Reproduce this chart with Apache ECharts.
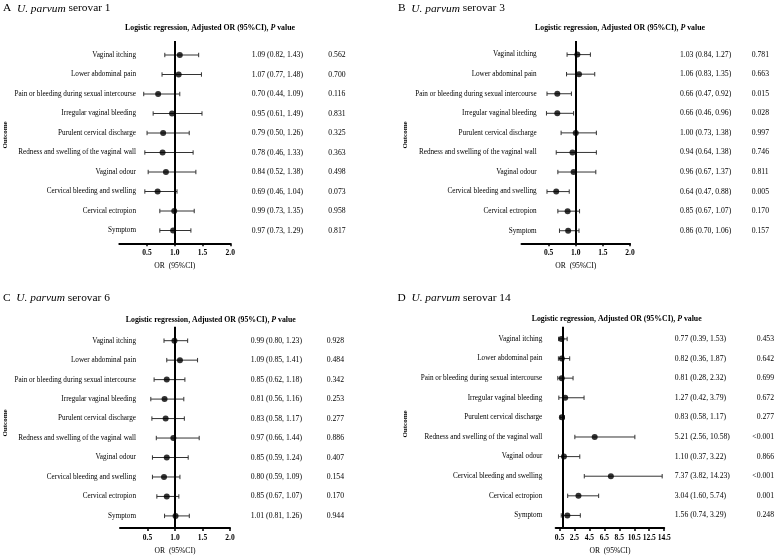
<!DOCTYPE html>
<html>
<head>
<meta charset="utf-8">
<script src="https://cdn.jsdelivr.net/npm/echarts@6/dist/echarts.min.js"></script>
<style>html,body{margin:0;padding:0;background:#fff}#c{width:777px;height:556px}</style>
</head>
<body>
<div id="c"></div>
<script>
// ---------------- data ----------------
const categories = ["Vaginal itching","Lower abdominal pain","Pain or bleeding during sexual intercourse","Irregular vaginal bleeding","Purulent cervical discharge","Redness and swelling of the vaginal wall","Vaginal odour","Cervical bleeding and swelling","Cervical ectropion","Symptom"];

const panelLetters = ["A","B","C","D"];
const serovars = ["1","3","6","14"];

const orA = [1.09,1.07,0.70,0.95,0.79,0.78,0.84,0.69,0.99,0.97];
const loA = [0.82,0.77,0.44,0.61,0.50,0.46,0.52,0.46,0.73,0.73];
const hiA = [1.43,1.48,1.09,1.49,1.26,1.33,1.38,1.04,1.35,1.29];
const pA  = ["0.562","0.700","0.116","0.831","0.325","0.363","0.498","0.073","0.958","0.817"];

const orB = [1.03,1.06,0.66,0.66,1.00,0.94,0.96,0.64,0.85,0.86];
const loB = [0.84,0.83,0.47,0.46,0.73,0.64,0.67,0.47,0.67,0.70];
const hiB = [1.27,1.35,0.92,0.96,1.38,1.38,1.37,0.88,1.07,1.06];
const pB  = ["0.781","0.663","0.015","0.028","0.997","0.746","0.811","0.005","0.170","0.157"];

const orC = [0.99,1.09,0.85,0.81,0.83,0.97,0.85,0.80,0.85,1.01];
const loC = [0.80,0.85,0.62,0.56,0.58,0.66,0.59,0.59,0.67,0.81];
const hiC = [1.23,1.41,1.18,1.16,1.17,1.44,1.24,1.09,1.07,1.26];
const pC  = ["0.928","0.484","0.342","0.253","0.277","0.886","0.407","0.154","0.170","0.944"];

const orD = [0.77,0.82,0.81,1.27,0.83,5.21,1.10,7.37,3.04,1.56];
const loD = [0.39,0.36,0.28,0.42,0.58,2.56,0.37,3.82,1.60,0.74];
const hiD = [1.53,1.87,2.32,3.79,1.17,10.58,3.22,14.23,5.74,3.29];
const pD  = ["0.453","0.642","0.699","0.672","0.277","<0.001","0.866","<0.001","0.001","0.248"];

const ticksSmall = [0.5,1.0,1.5,2.0];
const ticksWide  = [0.5,2.5,4.5,6.5,8.5,10.5,12.5,14.5];
const refValue = 1.0;

const headerText = "Logistic regression, Adjusted OR (95%CI), ";
const xAxisTitle = "OR  (95%CI)";
const yAxisTitle = "Outcome";

// ---------------- layout ----------------
const panels = [
  {or:orA, lo:loA, hi:hiA, p:pA, ticks:ticksSmall, xMax:2.0,
   g:{left:119.3, top:41, width:111, height:202.3}, row0:55, step:19.5,
   labelRight:136, orLeft:251.7, pX:328.3, pAlign:'left',
   title:[3,8], header:[210,29.3], outcome:[5,135]},
  {or:orB, lo:loB, hi:hiB, p:pB, ticks:ticksSmall, xMax:2.0,
   g:{left:521.5, top:41, width:108.5, height:202.3}, row0:54.6, step:19.57,
   labelRight:536.7, orLeft:680, pX:751.7, pAlign:'left',
   title:[398,8], header:[620,29.3], outcome:[405,135]},
  {or:orC, lo:loC, hi:hiC, p:pC, ticks:ticksSmall, xMax:2.0,
   g:{left:120, top:326.7, width:110, height:201.6}, row0:340.7, step:19.5,
   labelRight:136, orLeft:250.7, pX:326.7, pAlign:'left',
   title:[3,297.3], header:[210.8,320.7], outcome:[5,423]},
  {or:orD, lo:loD, hi:hiD, p:pD, ticks:ticksWide, xMax:14.5,
   g:{left:555.7, top:326.7, width:111, height:202.6}, row0:339, step:19.74,
   labelRight:542.3, orLeft:677.3, pX:776.5, pAlign:'right',
   title:[397.5,297.3], header:[616.7,320], outcome:[405,424]}
];

const SERIF = "Liberation Serif";
const idx = categories.map((_, i) => i);

const option = {
  animation:false,
  backgroundColor:'#fff',
  title:[], grid:[], xAxis:[], yAxis:[], series:[], graphic:[]
};

panels.forEach((P, k) => {
  const yMin = (P.g.top - P.row0) / P.step;
  const yMax = (P.g.top + P.g.height - P.row0) / P.step;
  const right = P.g.left + P.g.width;

  option.grid.push(Object.assign({containLabel:false}, P.g));

  option.title.push({
    left:P.title[0], top:P.title[1]-5, padding:0,
    text:'{n|' + panelLetters[k] + '  }{i|U. parvum}{n| serovar ' + serovars[k] + '}',
    textStyle:{fontFamily:SERIF, fontSize:11.4, fontWeight:'normal', color:'#000',
      rich:{
      n:{fontFamily:SERIF, fontSize:11.4, color:'#000'},
      i:{fontFamily:SERIF, fontSize:11.4, fontStyle:'italic', color:'#000'}
    }}
  });
  option.title.push({
    left:P.header[0], top:P.header[1]-5, padding:0, textAlign:'center',
    text:'{b|' + headerText + '}{bi|P}{b| value}',
    textStyle:{fontFamily:SERIF, fontSize:7.8, fontWeight:'bold', color:'#000',
      rich:{
      b:{fontFamily:SERIF, fontSize:7.8, fontWeight:'bold', color:'#000'},
      bi:{fontFamily:SERIF, fontSize:7.8, fontWeight:'bold', fontStyle:'italic', color:'#000'}
    }}
  });

  option.graphic.push({
    type:'text', x:P.outcome[0], y:P.outcome[1], rotation:Math.PI/2, silent:true,
    style:{text:yAxisTitle, fontFamily:SERIF, fontSize:7, fontWeight:'bold', fill:'#000',
           align:'center', verticalAlign:'middle'}
  });

  option.xAxis.push({
    type:'value', gridIndex:k, min:0, max:P.xMax,
    splitLine:{show:false},
    axisLine:{show:true, onZero:false, lineStyle:{color:'#000', width:2}},
    axisTick:{show:true, customValues:P.ticks, length:3, lineStyle:{color:'#000', width:1.5}},
    axisLabel:{customValues:P.ticks, formatter:v => v.toFixed(1), margin:6,
      fontFamily:SERIF, fontSize:7.5, fontWeight:'bold', color:'#000'},
    name:xAxisTitle, nameLocation:'middle', nameGap:19,
    nameTextStyle:{fontFamily:SERIF, fontSize:7.6, color:'#000'}
  });

  const baseY = {type:'value', gridIndex:k, min:yMin, max:yMax, inverse:true,
    splitLine:{show:false}, axisLine:{show:false}, axisTick:{show:false}};

  option.yAxis.push(Object.assign({}, baseY, {position:'left',
    axisLabel:{customValues:idx, formatter:v => categories[Math.round(v)],
      margin:P.g.left - P.labelRight, align:'right',
      fontFamily:SERIF, fontSize:7.2, color:'#000'}}));
  option.yAxis.push(Object.assign({}, baseY, {position:'right',
    axisLabel:{customValues:idx,
      formatter:v => { const i = Math.round(v); return P.or[i].toFixed(2) + ' (' + P.lo[i].toFixed(2) + ', ' + P.hi[i].toFixed(2) + ')'; },
      margin:P.orLeft - right, align:'left',
      fontFamily:SERIF, fontSize:7.7, color:'#000'}}));
  option.yAxis.push(Object.assign({}, baseY, {position:'right',
    axisLabel:{customValues:idx, formatter:v => P.p[Math.round(v)],
      margin:P.pX - right, align:P.pAlign,
      fontFamily:SERIF, fontSize:7.7, color:'#000'}}));

  option.series.push({
    type:'custom', xAxisIndex:k, yAxisIndex:3*k, silent:true,
    data:P.lo.map((l, i) => [l, P.hi[i], i]),
    encode:{x:[0,1], y:2},
    renderItem:(params, api) => {
      const i = api.value(2);
      const a = api.coord([api.value(0), i]);
      const b = api.coord([api.value(1), i]);
      const cap = 2.2;
      const st = {stroke:'#333', lineWidth:1};
      return {type:'group', children:[
        {type:'line', shape:{x1:a[0], y1:a[1], x2:b[0], y2:b[1]}, style:st},
        {type:'line', shape:{x1:a[0], y1:a[1]-cap, x2:a[0], y2:a[1]+cap}, style:st},
        {type:'line', shape:{x1:b[0], y1:b[1]-cap, x2:b[0], y2:b[1]+cap}, style:st}
      ]};
    }
  });

  option.series.push({
    type:'scatter', xAxisIndex:k, yAxisIndex:3*k, silent:true,
    symbol:'circle', symbolSize:6, itemStyle:{color:'#000'},
    data:P.or.map((v, i) => [v, i]),
    markLine:{silent:true, symbol:'none', label:{show:false},
      lineStyle:{color:'#000', width:2, type:'solid'},
      data:[{xAxis:refValue}]}
  });
});

const chart = echarts.init(document.getElementById('c'), null, {renderer:'canvas'});
chart.setOption(option);
</script>
</body>
</html>
